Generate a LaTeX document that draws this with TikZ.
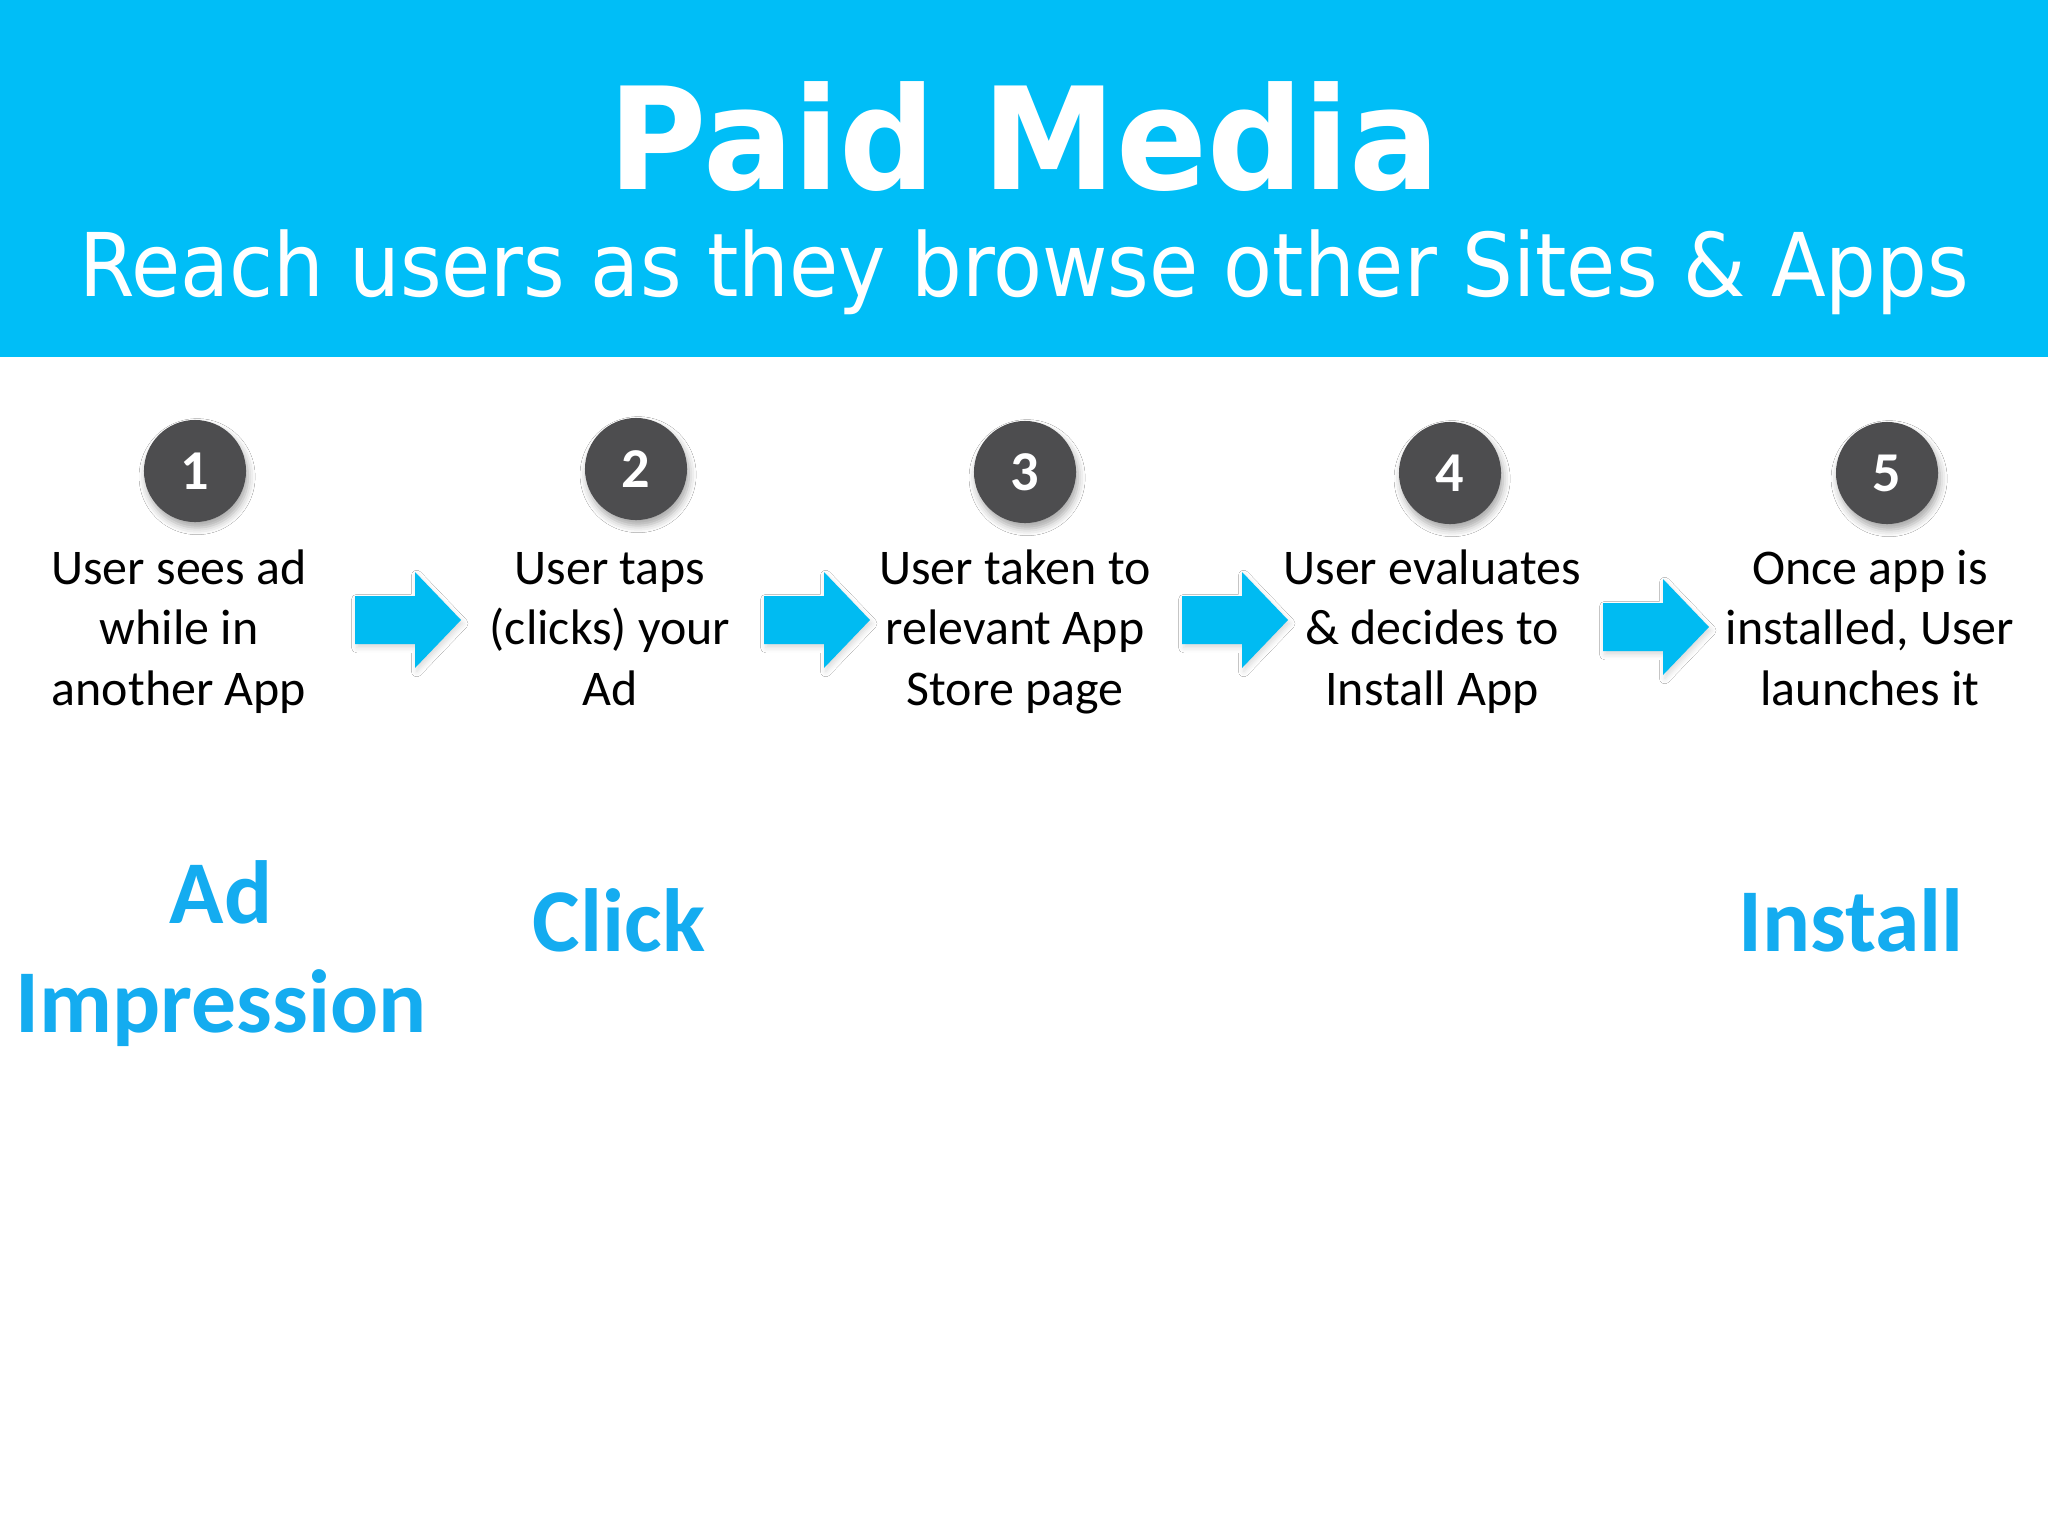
\documentclass[tikz,border=0pt]{standalone}
\usepackage{graphicx}
\usepackage{fontspec}
\setmainfont{Carlito}
\newfontfamily\bannerfont{DejaVu Sans}
\usetikzlibrary{shadows.blur}
\definecolor{bandblue}{RGB}{0,190,247}
\definecolor{arrowblue}{RGB}{0,187,242}
\definecolor{labelblue}{RGB}{20,172,240}
\definecolor{stepgray}{RGB}{77,77,79}

\begin{document}
\begin{tikzpicture}[x=0.01cm, y=-0.01cm,
    every node/.style={inner sep=0pt},
    stepnum/.style={circle, fill=stepgray, minimum size=1.02cm, text=white,
      font=\bfseries\fontsize{16}{19}\selectfont,
      blur shadow={shadow xshift=0.6pt, shadow yshift=-1.6pt, shadow opacity=35, shadow blur radius=2pt}},
    steptext/.style={anchor=base, align=center, font=\fontsize{14.2}{17.1}\selectfont},
    phase/.style={anchor=base, align=center, text=labelblue, font=\bfseries\fontsize{25.5}{31}\selectfont},
    flow/.style={fill=arrowblue,
      blur shadow={shadow xshift=0.5pt, shadow yshift=-1pt, shadow opacity=15, shadow blur radius=1.5pt}}]
  \useasboundingbox (0,0) rectangle (2048,1536);
  \fill[white] (0,0) rectangle (2048,1536);

  % banner
  \fill[bandblue] (0,0) rectangle (2048,357);
  \node[anchor=base, text=white, font=\bannerfont\bfseries\fontsize{40.4}{48}\selectfont]
    (title) at (1024,189) {\scalebox{0.945}[1]{Paid Media}};
  \node[anchor=base, text=white, font=\bannerfont\fontsize{25}{30}\selectfont]
    (subtitle) at (1024,296) {\scalebox{0.91}[1]{Reach users as they browse other Sites \& Apps}};

  % steps (base = last line)
  \foreach \n/\x/\y in {1/195/471, 2/636/469, 3/1025/472, 4/1450/473, 5/1887/473}
    \node[stepnum] (num\n) at (\x,\y) {\n};

  \node[steptext] (txt1) at (179,705) {User sees ad\\while in\\another App};
  \node[steptext] (txt2) at (610,705) {User taps\\(clicks) your\\Ad};
  \node[steptext] (txt3) at (1015,705) {User taken to\\relevant App\\Store page};
  \node[steptext] (txt4) at (1432,705) {User evaluates\\\& decides to\\Install App};
  \node[steptext] (txt5) at (1870,705) {Once app is\\installed, User\\launches it};

  \foreach \x/\y in {355/620, 764/620, 1182/620, 1603/627}
    \fill[flow] (\x,\y-24) -- ++(60,0) -- ++(0,-24) -- ++(46,48) -- ++(-46,48)
      -- ++(0,-24) -- ++(-60,0) -- cycle;

  % what gets counted
  \node[phase] (impression) at (221,1032) {Ad\\Impression};
  \node[phase] (click) at (619,951) {Click};
  \node[phase] (install) at (1851,951) {Install};
\end{tikzpicture}
\end{document}
